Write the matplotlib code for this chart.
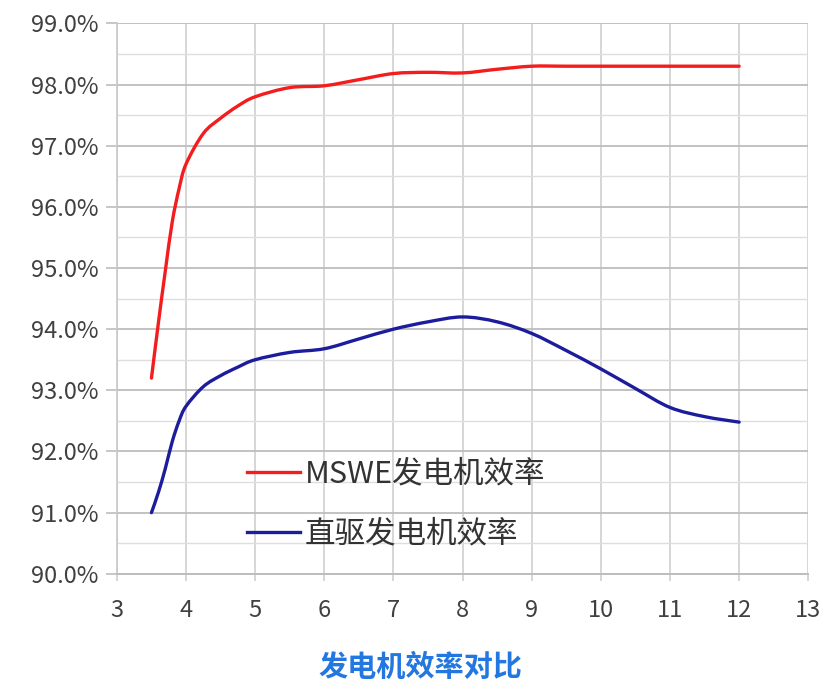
import matplotlib
matplotlib.use("Agg")
import matplotlib.pyplot as plt
from matplotlib.ticker import MultipleLocator, FuncFormatter
from matplotlib.path import Path
from matplotlib.patches import PathPatch
from matplotlib.lines import Line2D

plt.rcParams['font.family'] = ['Noto Sans CJK SC', 'DejaVu Sans']

# Data
mswe_x = [3.5, 3.6, 3.7, 3.8, 3.9, 4.0, 4.25, 4.5, 4.75, 5.0, 5.5, 6.0, 6.5,
          7.0, 7.5, 8.0, 8.5, 9.0, 9.5, 10.0, 11.0, 12.0]
mswe_y = [93.2, 94.1, 94.95, 95.75, 96.3, 96.7, 97.2, 97.45, 97.65, 97.8, 97.95,
          97.98, 98.08, 98.18, 98.2, 98.19, 98.25, 98.3, 98.3, 98.3, 98.3, 98.3]

direct_x = [3.5, 3.6, 3.7, 3.8, 3.9, 4.0, 4.25, 4.5, 4.75, 5.0, 5.5, 6.0, 6.5,
            7.0, 7.5, 8.0, 8.5, 9.0, 9.5, 10.0, 10.5, 11.0, 11.5, 12.0]
direct_y = [91.0, 91.33, 91.72, 92.16, 92.5, 92.74, 93.06, 93.24, 93.38, 93.5,
            93.62, 93.68, 93.84, 94.0, 94.12, 94.2, 94.12, 93.93, 93.65, 93.35,
            93.03, 92.72, 92.57, 92.48]

series_names = ['MSWE发电机效率', '直驱发电机效率']
series_colors = ['#f41c1c', '#1c1c9c']
title = '发电机效率对比'


def smooth_path(xs, ys):
    """Excel-style smoothed line as cubic Bezier segments in data coords."""
    pts = list(zip(xs, ys))
    n = len(pts)
    verts = [pts[0]]
    codes = [Path.MOVETO]
    for i in range(n - 1):
        p0 = pts[i - 1] if i > 0 else pts[i]
        p1 = pts[i]
        p2 = pts[i + 1]
        p3 = pts[i + 2] if i + 2 < n else pts[i + 1]
        c1 = (p1[0] + (p2[0] - p0[0]) / 6, p1[1] + (p2[1] - p0[1]) / 6)
        c2 = (p2[0] - (p3[0] - p1[0]) / 6, p2[1] - (p3[1] - p1[1]) / 6)
        verts += [c1, c2, p2]
        codes += [Path.CURVE4] * 3
    return Path(verts, codes)


fig = plt.figure(figsize=(8.29, 6.88), dpi=100)
ax = fig.add_axes([0.141, 0.166, 0.834, 0.800])

for xs, ys, c in [(mswe_x, mswe_y, series_colors[0]),
                  (direct_x, direct_y, series_colors[1])]:
    ax.add_patch(PathPatch(smooth_path(xs, ys), facecolor='none', edgecolor=c,
                           lw=2.4, joinstyle='round', capstyle='round', zorder=3))

ax.set_xlim(3, 13)
ax.set_ylim(90, 99)
ax.xaxis.set_major_locator(MultipleLocator(1))
ax.yaxis.set_major_locator(MultipleLocator(1))
ax.yaxis.set_minor_locator(MultipleLocator(0.5))
ax.yaxis.set_major_formatter(FuncFormatter(lambda v, p: f'{v:.1f}%'))

ax.grid(True, which='major', axis='y', color='#bdbdbd', lw=1.3)
ax.grid(True, which='minor', axis='y', color='#dedede', lw=1.0)
ax.grid(True, which='major', axis='x', color='#cfcfcf', lw=1.2)
ax.set_axisbelow(True)

for s in ['top', 'right']:
    ax.spines[s].set_visible(False)
ax.spines['left'].set_color('#c8c8c8')
ax.spines['bottom'].set_color('#bdbdbd')
ax.spines['left'].set_linewidth(1.2)
ax.spines['bottom'].set_linewidth(1.4)

ax.tick_params(axis='y', which='major', length=8, color='#bdbdbd', width=1.2,
               labelsize=17, labelcolor='#404040', pad=5)
ax.tick_params(axis='y', which='minor', length=0)
ax.tick_params(axis='x', which='major', length=5, color='#cfcfcf', width=1.2,
               labelsize=17, labelcolor='#404040', pad=13)

handles = [Line2D([], [], color=c, lw=2.4) for c in series_colors]
leg = ax.legend(handles, series_names, loc='upper left',
                bbox_to_anchor=(0.17, 0.232), frameon=False,
                fontsize=22, handlelength=1.75, labelspacing=0.95,
                handletextpad=0.15, borderaxespad=0)
for t in leg.get_texts():
    t.set_color('#333333')

fig.text(0.507, 0.031, title, ha='center', va='center', fontsize=21,
         fontweight='bold', color='#2277e0')

fig.savefig('out.png', dpi=100)
